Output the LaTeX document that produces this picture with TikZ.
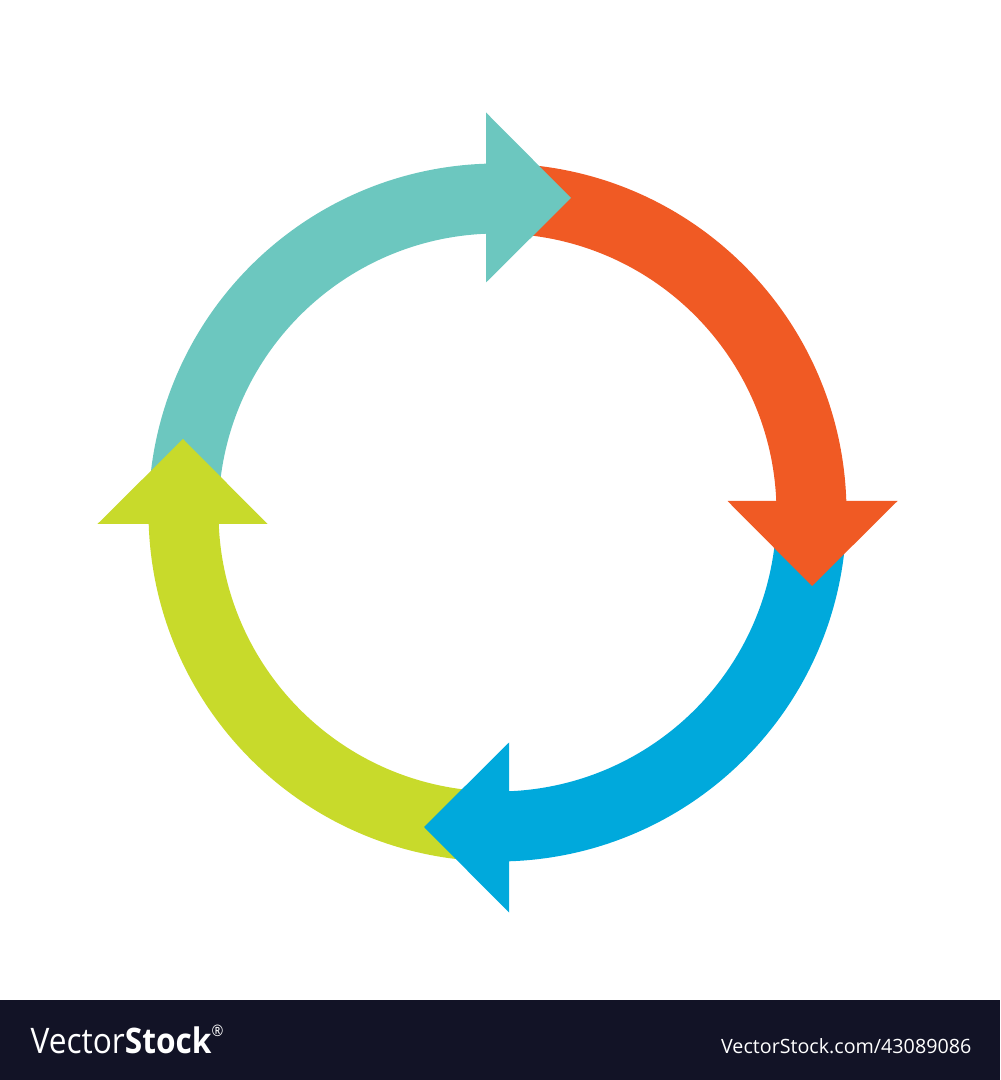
\documentclass[tikz,border=0pt]{standalone}
\usepackage{xcolor}
\usepackage{tikz}
\usepackage{fontspec}
\newfontfamily\barfont{Open Sans}

\definecolor{tealarrow}{HTML}{6CC7BF}
\definecolor{orangearrow}{HTML}{F05A24}
\definecolor{bluearrow}{HTML}{00A9DC}
\definecolor{greenarrow}{HTML}{C8DA2B}
\definecolor{barnavy}{HTML}{121326}

\begin{document}
\begin{tikzpicture}[x=0.01cm,y=0.01cm]
\useasboundingbox (-497.5,-567.5) rectangle (502.5,512.5);

\fill[tealarrow] (175:279) arc (175:91.5:279) -- (91.5:349) arc (91.5:175:349) -- cycle;
\fill[orangearrow] (85:279) arc (85:1.5:279) -- (1.5:349) arc (1.5:85:349) -- cycle;
\fill[bluearrow] (-5:279) arc (-5:-88.5:279) -- (-88.5:349) arc (-88.5:-5:349) -- cycle;
\fill[greenarrow] (-95:279) arc (-95:-178.5:279) -- (-178.5:349) arc (-178.5:-95:349) -- cycle;

\fill[tealarrow] (-11.5,230) -- (-11.5,400) -- (73.5,314.5) -- cycle;
\fill[orangearrow] (230,11.5) -- (400,11.5) -- (314.5,-73.5) -- cycle;
\fill[bluearrow] (11.5,-230) -- (11.5,-400) -- (-73.5,-314.5) -- cycle;
\fill[greenarrow] (-230,-11.5) -- (-400,-11.5) -- (-314.5,73.5) -- cycle;

\fill[barnavy] (-497.5,-487.5) rectangle (502.5,-567.5);
\node[anchor=base west, inner sep=0pt, text=white, xscale=0.9, transform shape, font=\barfont\fontsize{10}{12}\selectfont] (brand) at (-467.5,-540.5) {Vector\textbf{Stock}\raisebox{0.9ex}{\fontsize{4.5}{5}\selectfont ®}};
\node[anchor=base east, inner sep=0pt, text=white, font=\barfont\fontsize{5.6}{6}\selectfont] (link) at (474.5,-540.5) {VectorStock.com/43089086};
\end{tikzpicture}
\end{document}
